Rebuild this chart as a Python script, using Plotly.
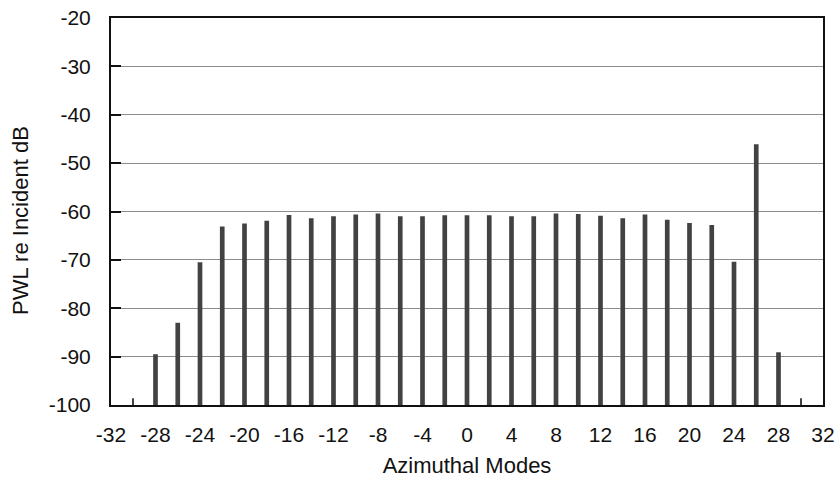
import plotly.graph_objects as go

# Azimuthal mode numbers and power level re incident (dB)
modes = [-28, -26, -24, -22, -20, -18, -16, -14, -12, -10, -8, -6, -4, -2, 0,
         2, 4, 6, 8, 10, 12, 14, 16, 18, 20, 22, 24, 26, 28]
pwl_db = [-89.5, -83.0, -70.5, -63.1, -62.5, -61.9, -60.7, -61.4, -61.0, -60.6,
          -60.4, -61.0, -61.0, -60.8, -60.8, -60.8, -61.0, -61.0, -60.4, -60.5,
          -60.9, -61.4, -60.6, -61.7, -62.4, -62.8, -70.4, -46.1, -89.1]

# Barely-present edge modes
edge_modes = [-30, 30]
edge_pwl_db = [-98.6, -98.6]

x_ticks = [-32, -28, -24, -20, -16, -12, -8, -4, 0, 4, 8, 12, 16, 20, 24, 28, 32]
y_ticks = [-100, -90, -80, -70, -60, -50, -40, -30, -20]

FLOOR = -100
FONT = "Liberation Sans, Arial, Helvetica, sans-serif"
BAR_COLOR = "#424242"
INK = "#111111"

fig = go.Figure()
fig.add_trace(go.Bar(
    x=modes, y=[v - FLOOR for v in pwl_db], base=FLOOR,
    width=0.42, marker=dict(color=BAR_COLOR, line=dict(width=0)),
    customdata=pwl_db, hovertemplate="Mode %{x}: %{customdata} dB<extra></extra>",
))
fig.add_trace(go.Bar(
    x=edge_modes, y=[v - FLOOR for v in edge_pwl_db], base=FLOOR,
    width=0.09, marker=dict(color=BAR_COLOR, line=dict(width=0)),
    customdata=edge_pwl_db, hovertemplate="Mode %{x}: %{customdata} dB<extra></extra>",
))

fig.update_layout(
    width=838, height=478,
    margin=dict(l=111, r=15, t=18, b=73),
    paper_bgcolor="white", plot_bgcolor="white",
    showlegend=False, barmode="overlay",
    font=dict(family=FONT, size=21, color=INK),
    annotations=[dict(
        text="PWL re Incident dB", textangle=-90,
        xref="paper", yref="paper", x=-0.128, y=0.478,
        xanchor="center", yanchor="middle", showarrow=False,
        font=dict(size=22, color=INK),
    )],
)
fig.update_xaxes(
    range=[-32, 32], tickvals=x_ticks, ticktext=[str(t) for t in x_ticks],
    showgrid=False, zeroline=False, ticks="", automargin=False,
    showline=True, linecolor=INK, linewidth=2, mirror=True,
    ticklabelstandoff=10,
    title=dict(text="Azimuthal Modes", font=dict(size=22), standoff=22),
)
fig.update_yaxes(
    range=[-100, -20], tickvals=y_ticks, ticktext=[str(t) for t in y_ticks],
    showgrid=True, gridcolor="#8c8c8c", gridwidth=1, zeroline=False,
    ticks="inside", ticklen=10, tickwidth=2, tickcolor=INK, automargin=False,
    showline=True, linecolor=INK, linewidth=2, mirror=True,
    ticklabelstandoff=14,
)

fig.write_html("out.html")
